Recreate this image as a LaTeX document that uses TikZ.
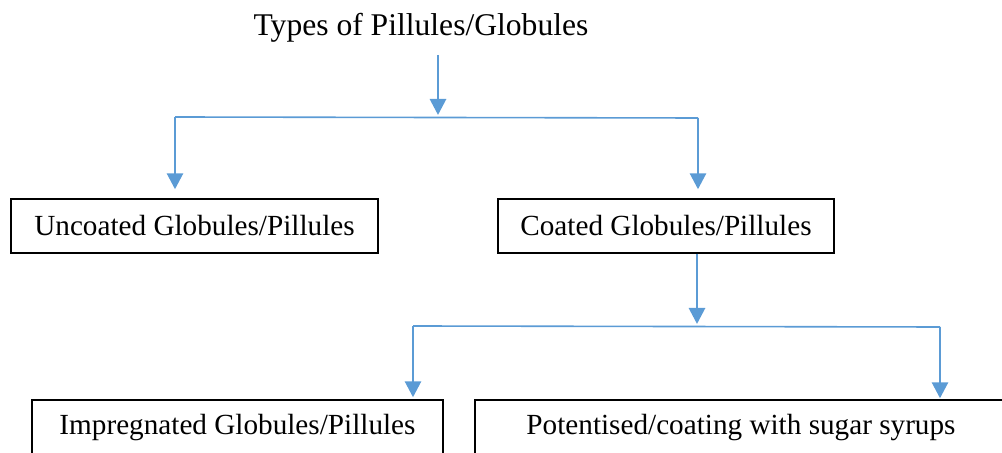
\documentclass[tikz,border=0pt]{standalone}
\usepackage{fontspec}
\setmainfont{Liberation Serif}
\definecolor{flowblue}{HTML}{5B9BD5}
\usetikzlibrary{arrows.meta,positioning,calc}

\begin{document}
\begin{tikzpicture}[
  x=0.5pt, y=-0.5pt,
  typebox/.style={rectangle, draw=black, line width=0.7pt, minimum height=27pt, inner sep=0pt, font=\fontsize{14.6}{17}\selectfont},
  flowarrow/.style={-{Triangle[length=8pt,width=8pt]}, line width=1.4pt, flowblue},
  flowbar/.style={line width=0.8pt, flowblue},
]
\useasboundingbox (0,0) rectangle (1002,453);
\node[anchor=base, font=\fontsize{15.8}{19}\selectfont] (title) at (421,36) {Types of Pillules/Globules};
\node[typebox, minimum width=183.5pt] (uncoated) at (194.5,226) {Uncoated Globules/Pillules};
\node[typebox, minimum width=168pt] (coated) at (666,226) {Coated Globules/Pillules};
\node[typebox, minimum width=205.5pt, minimum height=28pt] (impregnated) at (237.5,428) {Impregnated Globules/Pillules};
\node[typebox, minimum width=266pt, minimum height=28pt] (potentised) at (741,428) {Potentised/coating with sugar syrups};
% first split
\coordinate (topjoin) at (438,117);
\coordinate (leftjoin) at (175,117);
\coordinate (rightjoin) at (698,118);
\draw[flowarrow, shorten >=1pt] ([yshift=-2.5pt]title.south -| topjoin) -- (topjoin);
\draw[flowbar] (leftjoin) -- (rightjoin);
\draw[flowarrow, shorten >=4.5pt] (leftjoin) -- (leftjoin |- uncoated.north);
\draw[flowarrow, shorten >=4.5pt] (rightjoin) -- (rightjoin |- coated.north);
% second split
\coordinate (midjoin) at (697,326);
\coordinate (lowleft) at (413,326);
\coordinate (lowright) at (940,327);
\draw[flowarrow, shorten >=1pt] (coated.south -| midjoin) -- (midjoin);
\draw[flowbar] (lowleft) -- (lowright);
\draw[flowarrow, shorten >=1pt] (lowleft) -- (lowleft |- impregnated.north);
\draw[flowarrow, shorten >=0.5pt] (lowright) -- (lowright |- potentised.north);
\end{tikzpicture}
\end{document}
